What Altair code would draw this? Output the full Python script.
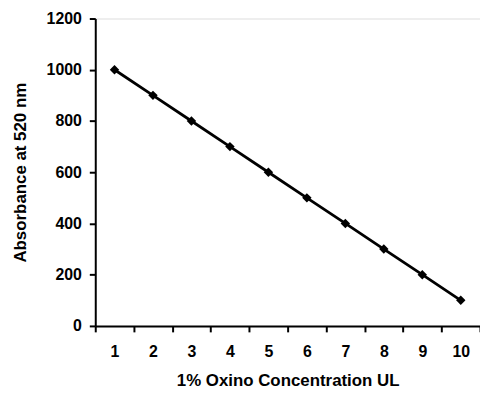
import altair as alt
import pandas as pd

concentration = [1, 2, 3, 4, 5, 6, 7, 8, 9, 10]
absorbance = [1000, 900, 800, 700, 600, 500, 400, 300, 200, 100]

df = pd.DataFrame({"conc": concentration, "abs": absorbance})

FONT = "Liberation Sans"

x = alt.X(
    "conc:O",
    sort=concentration,
    scale=alt.Scale(paddingInner=0, paddingOuter=0),
    axis=alt.Axis(
        title="1% Oxino Concentration UL",
        labelAngle=0,
        tickBand="extent",
        labelFont=FONT, labelFontSize=16, labelFontWeight="bold", labelColor="black",
        labelPadding=12, tickSize=6, tickWidth=2, tickColor="black",
        domainColor="black", domainWidth=2,
        titleFont=FONT, titleFontSize=17, titleFontWeight="bold", titleColor="black",
        titlePadding=13,
    ),
)
y = alt.Y(
    "abs:Q",
    scale=alt.Scale(domain=[0, 1200]),
    axis=alt.Axis(
        title="Absorbance at 520 nm",
        values=[0, 200, 400, 600, 800, 1000, 1200],
        format="d",
        grid=False,
        labelFont=FONT, labelFontSize=16, labelFontWeight="bold", labelColor="black",
        labelPadding=8, tickSize=6, tickWidth=2, tickColor="black",
        domainColor="black", domainWidth=2,
        titleFont=FONT, titleFontSize=17, titleFontWeight="bold", titleColor="black",
        titlePadding=17,
    ),
)

line = alt.Chart(df).mark_line(color="black", strokeWidth=2.8).encode(x=x, y=y)
pts = alt.Chart(df).mark_point(shape="diamond", filled=True, color="black", size=90, opacity=1).encode(x=x, y=y)

chart = (
    alt.layer(line, pts)
    .properties(
        width=388,
        height=310,
        padding={"left": 88, "top": 9, "right": 0, "bottom": 62},
        autosize=alt.AutoSizeParams(type="none"),
    )
    .configure_view(stroke=None)
    .configure(background="white")
)

chart.save("out.html", embed_options={"renderer": "svg", "actions": False})
